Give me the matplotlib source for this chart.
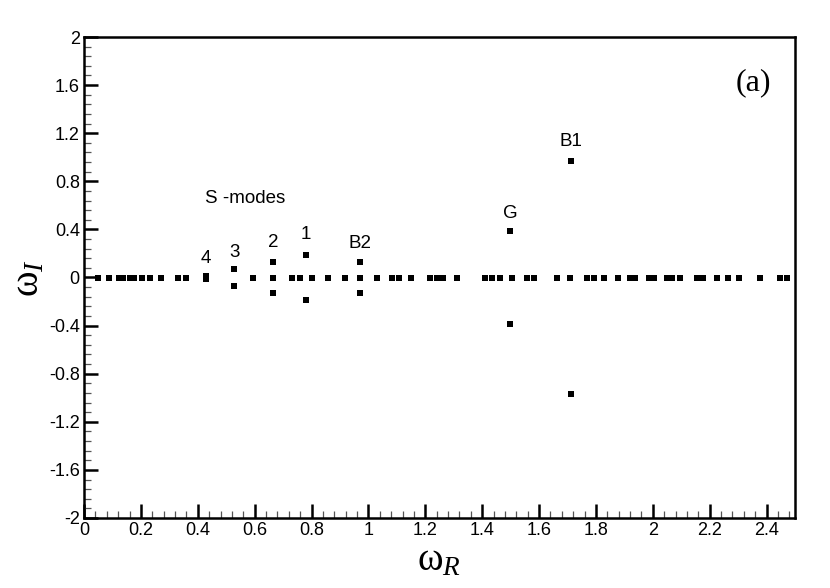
import matplotlib.pyplot as plt
import numpy as np
from matplotlib.ticker import MultipleLocator

# Eigenvalues on the real axis (omega_I = 0)
real_modes = [0.050, 0.089, 0.124, 0.138, 0.162, 0.177, 0.203, 0.232, 0.271,
              0.330, 0.359, 0.593, 0.666, 0.730, 0.760, 0.801, 0.859, 0.918,
              0.971, 1.030, 1.082, 1.106, 1.149, 1.217, 1.241, 1.264, 1.311,
              1.410, 1.434, 1.463, 1.504, 1.557, 1.583, 1.663, 1.709, 1.768,
              1.792, 1.827, 1.879, 1.920, 1.938, 1.985, 2.003, 2.050, 2.067,
              2.096, 2.155, 2.178, 2.225, 2.266, 2.302, 2.378, 2.448, 2.472]

# Complex conjugate pairs (omega_R, +/- omega_I)
pair_names = ['4', '3', '2', '1', 'B2', 'G', 'B1']
pair_wr = [0.430, 0.529, 0.666, 0.781, 0.971, 1.498, 1.713]
pair_wi = [0.010, 0.067, 0.13, 0.19, 0.13, 0.39, 0.97]
label_y = [0.16, 0.21, 0.29, 0.36, 0.28, 0.53, 1.13]

plt.rcParams['mathtext.fontset'] = 'custom'
plt.rcParams['mathtext.rm'] = 'Liberation Serif'
plt.rcParams['mathtext.it'] = 'Liberation Serif:italic'

fig = plt.figure(figsize=(8.3, 5.88), dpi=100)
ax = fig.add_axes([84 / 830, 70 / 588, 711 / 830, 481 / 588])

ms = 4.3
ax.plot(real_modes, np.zeros(len(real_modes)), 's', color='black', ms=ms, mew=0)
wr = np.array(pair_wr)
wi = np.array(pair_wi)
ax.plot(np.concatenate([wr, wr]), np.concatenate([wi, -wi]), 's', color='black', ms=ms, mew=0)

sans = 'Liberation Sans'
for name, x, y in zip(pair_names, pair_wr, label_y):
    ax.text(x, y, name, ha='center', va='center', fontsize=13.5, family=sans)
ax.text(0.566, 0.66, 'S -modes', ha='center', va='center', fontsize=13.5, family=sans)
ax.text(0.967, 0.905, '(a)', transform=ax.transAxes, ha='right', va='center',
        fontsize=23, family='Liberation Serif')

ax.set_xlim(0, 2.5)
ax.set_ylim(-2, 2)
ax.xaxis.set_major_locator(MultipleLocator(0.2))
ax.xaxis.set_minor_locator(MultipleLocator(0.04))
ax.yaxis.set_major_locator(MultipleLocator(0.4))
ax.yaxis.set_minor_locator(MultipleLocator(0.08))
fmt = plt.FuncFormatter(lambda v, p: f'{v:.1f}'.rstrip('0').rstrip('.') if abs(v) > 1e-9 else '0')
ax.xaxis.set_major_formatter(fmt)
ax.yaxis.set_major_formatter(fmt)

ax.tick_params(which='both', direction='in', top=False, right=False)
ax.tick_params(which='major', length=10, width=1.8, pad=3)
ax.tick_params(which='minor', length=5, width=0.9, color='#555555')
for lab in ax.get_xticklabels() + ax.get_yticklabels():
    lab.set_fontfamily(sans)
    lab.set_fontsize(13)
for sp in ax.spines.values():
    sp.set_linewidth(1.8)

ax.set_xlabel(r'$\mathrm{\omega}_{R}$', fontsize=28, labelpad=1)
ax.set_ylabel(r'$\mathrm{\omega}_{I}$', fontsize=28, labelpad=2)

fig.savefig('out.png', dpi=100)
